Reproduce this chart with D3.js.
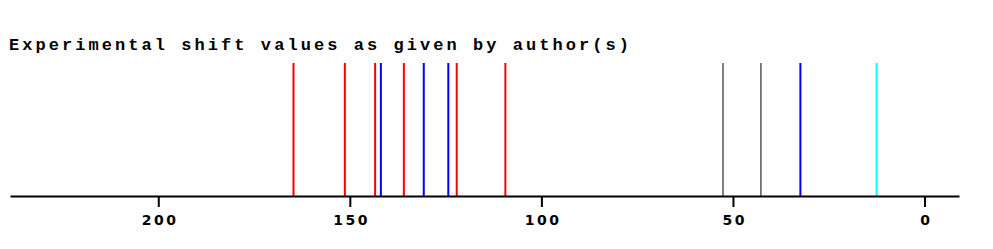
<!DOCTYPE html>
<html lang="en">
<head>
    <meta charset="UTF-8">
    <title>Experimental shift values</title>
    <script src="https://d3js.org/d3.v7.min.js"></script>
    <style>
        body { margin: 0; background: white; }
        .title {
            font-family: "Liberation Mono", monospace;
            font-weight: bold;
            font-size: 17px;
        }
        .axis text {
            font-family: "DejaVu Sans", sans-serif;
            font-weight: bold;
            font-size: 14px;
            letter-spacing: 2.5px;
        }
    </style>
</head>
<body>
<div id="chart"></div>
<script>
    // shift values (ppm)
    const shifts = [164.7, 151.3, 143.4, 141.9, 135.9, 130.7, 124.3, 122.1, 109.4, 52.6, 42.7, 32.4, 12.5];
    const colors = ["red", "red", "red", "blue", "red", "blue", "blue", "red", "red", "#555", "#555", "blue", "cyan"];
    const tickValues = [200, 150, 100, 50, 0];

    const width = 993, height = 249;
    const margin = { left: 10, right: 34, top: 63, bottom: 53 };

    const svg = d3.select("#chart").append("svg")
        .attr("width", width)
        .attr("height", height);

    const x = d3.scaleLinear()
        .domain([238.7, -9])
        .range([margin.left, width - margin.right]);

    const y0 = height - margin.bottom;

    svg.append("text")
        .attr("class", "title")
        .attr("x", 9)
        .attr("y", 50)
        .attr("textLength", 620)
        .attr("lengthAdjust", "spacing")
        .text("Experimental shift values as given by author(s)");

    svg.append("g")
        .selectAll("line")
        .data(shifts)
        .enter().append("line")
        .attr("x1", d => x(d))
        .attr("x2", d => x(d))
        .attr("y1", margin.top)
        .attr("y2", y0)
        .attr("stroke", (d, i) => colors[i])
        .attr("stroke-width", (d, i) => colors[i] === "#555" ? 1.5 : 2);

    const axis = svg.append("g")
        .attr("class", "axis")
        .attr("transform", `translate(0,${y0})`)
        .call(d3.axisBottom(x).tickValues(tickValues).tickSize(11).tickSizeOuter(0).tickPadding(8));

    axis.select(".domain").attr("stroke", "black").attr("stroke-width", 2);
    axis.selectAll(".tick line").attr("stroke", "black").attr("stroke-width", 2);
    axis.selectAll(".tick text").attr("fill", "black").attr("dx", "1.25px");
</script>
</body>
</html>
